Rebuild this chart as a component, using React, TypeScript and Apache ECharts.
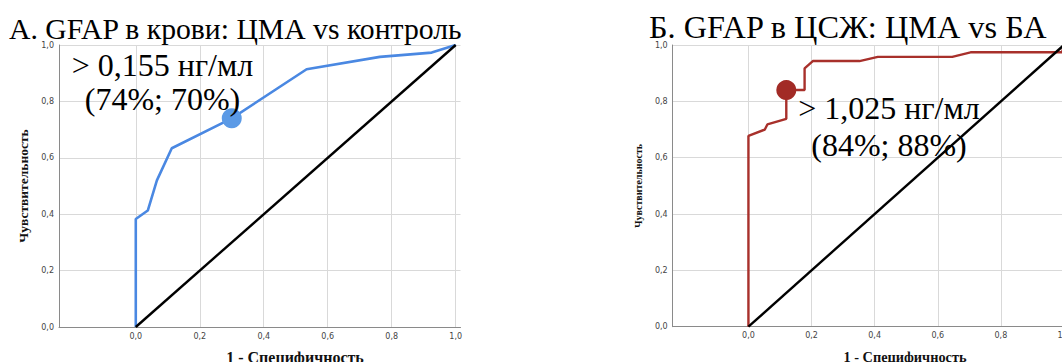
import { useEffect, useRef } from "react";
import * as echarts from "echarts";

// Tick values shown on both axes (the x axis extends a little left of 0)
const xTicks = [0, 0.2, 0.4, 0.6, 0.8, 1.0];

// Panel A: blood GFAP, ROC points (1 - specificity, sensitivity)
const bloodFpr = [0, 0, 0.0375, 0.066, 0.1125, 0.3, 0.534, 0.763, 0.925, 1.0];
const bloodTpr = [0, 0.383, 0.413, 0.52, 0.634, 0.74, 0.914, 0.958, 0.973, 1.0];
const bloodCutoff = "0,155";
const bloodSens = 74;
const bloodSpec = 70;

// Panel B: CSF GFAP, ROC points (1 - specificity, sensitivity)
const csfFpr = [0, 0, 0.052, 0.06, 0.12, 0.12, 0.178, 0.178, 0.204, 0.352, 0.41, 0.646, 0.704, 0.994, 1.0];
const csfTpr = [0, 0.677, 0.7, 0.718, 0.738, 0.84, 0.84, 0.917, 0.943, 0.943, 0.958, 0.958, 0.974, 0.974, 1.0];
const csfCutoff = "1,025";
const csfSens = 84;
const csfSpec = 88;

// Reference (chance) line
const diagX = [0, 1];
const diagY = [0, 1];

const titles = ["А. GFAP в крови: ЦМА vs контроль", "Б. GFAP в ЦСЖ: ЦМА vs БА"];
const xName = "1 - Специфичность";
const yName = "Чувствительность";

const SERIF = "'Liberation Serif', 'Times New Roman', Times, serif";
const SANS = "'DejaVu Sans', Verdana, sans-serif";

const comma = (v: number) => v.toFixed(1).replace(".", ",");
const pairs = (xs: number[], ys: number[]) => xs.map((x, i) => [x, ys[i]]);

function xAxis(gridIndex: number) {
  return {
    type: "value",
    gridIndex,
    min: -0.24,
    max: 1.015,
    axisLine: { show: true, onZero: false, lineStyle: { color: "#8a8a8a", width: 1 } },
    axisTick: { show: false, customValues: xTicks },
    axisLabel: {
      customValues: xTicks,
      formatter: comma,
      fontSize: 8,
      color: "#444",
      fontFamily: SANS,
      margin: 5,
    },
    splitLine: { show: true, lineStyle: { color: "#d9d9d9", width: 1 } },
  };
}

function yAxis(gridIndex: number, nameSize: number) {
  return {
    type: "value",
    gridIndex,
    min: 0,
    max: 1,
    interval: 0.2,
    name: yName,
    nameLocation: "middle",
    nameGap: 29,
    nameRotate: 90,
    nameTextStyle: {
      fontFamily: SERIF,
      fontWeight: "bold",
      fontSize: nameSize,
      color: "#111",
    },
    axisLine: { show: true, onZero: false, lineStyle: { color: "#8a8a8a", width: 1 } },
    axisTick: { show: false },
    axisLabel: {
      formatter: comma,
      fontSize: 8,
      color: "#444",
      fontFamily: SANS,
      margin: 5,
    },
    splitLine: { show: true, lineStyle: { color: "#d9d9d9", width: 1 } },
  };
}

function text(x: number, y: number, str: string, size: number, extra: object = {}) {
  return {
    type: "text",
    x,
    y,
    z: 10,
    style: {
      text: str,
      fontFamily: SERIF,
      fontSize: size,
      fill: "#000",
      textVerticalAlign: "top",
      ...extra,
    },
  };
}

export default function App() {
  const ref = useRef<HTMLDivElement>(null);

  useEffect(() => {
    if (!ref.current) return;
    const chart = echarts.init(ref.current, null, { renderer: "svg" });

    const bloodPoint = [1 - bloodSpec / 100, bloodSens / 100];
    const csfPoint = [1 - csfSpec / 100, csfSens / 100];

    chart.setOption({
      animation: false,
      backgroundColor: "#ffffff",
      grid: [
        { left: 59, top: 45, width: 401.5, height: 282 },
        { left: 672.7, top: 45, width: 396, height: 281.7 },
      ],
      xAxis: [xAxis(0), xAxis(1)],
      yAxis: [yAxis(0, 13.5), yAxis(1, 10)],
      series: [
        {
          type: "line",
          xAxisIndex: 0,
          yAxisIndex: 0,
          data: pairs(bloodFpr, bloodTpr),
          showSymbol: false,
          lineStyle: { color: "#4a88e2", width: 2.6 },
          z: 3,
        },
        {
          type: "line",
          xAxisIndex: 0,
          yAxisIndex: 0,
          data: pairs(diagX, diagY),
          showSymbol: false,
          lineStyle: { color: "#000", width: 2.4 },
          z: 4,
        },
        {
          type: "scatter",
          xAxisIndex: 0,
          yAxisIndex: 0,
          data: [bloodPoint],
          symbolSize: 20,
          itemStyle: { color: "#5b9ae6", opacity: 1 },
          z: 5,
        },
        {
          type: "line",
          xAxisIndex: 1,
          yAxisIndex: 1,
          data: pairs(csfFpr, csfTpr),
          showSymbol: false,
          lineStyle: { color: "#a8302b", width: 2.4 },
          z: 3,
        },
        {
          type: "line",
          xAxisIndex: 1,
          yAxisIndex: 1,
          data: pairs(diagX, diagY),
          showSymbol: false,
          lineStyle: { color: "#000", width: 2.4 },
          z: 4,
        },
        {
          type: "scatter",
          xAxisIndex: 1,
          yAxisIndex: 1,
          data: [csfPoint],
          symbolSize: 20,
          itemStyle: { color: "#a22b26", opacity: 1 },
          z: 5,
        },
      ],
      graphic: [
        text(9, 14.2, titles[0], 29.7),
        text(649, 10.5, titles[1], 32.3),
        text(162.5, 48, `> ${bloodCutoff} нг/мл\n(${bloodSens}%; ${bloodSpec}%)`, 32, {
          lineHeight: 34,
          textAlign: "center",
        }),
        text(889, 89, `> ${csfCutoff} нг/мл\n(${csfSens}%; ${csfSpec}%)`, 32, {
          lineHeight: 37,
          textAlign: "center",
        }),
        text(295, 349, xName, 16, { fontWeight: "bold", fill: "#111", textAlign: "center" }),
        text(905, 350, xName, 14.3, { fontWeight: "bold", fill: "#111", textAlign: "center" }),
      ],
    });

    return () => chart.dispose();
  }, []);

  return (
    <div
      ref={ref}
      style={{ position: "fixed", left: 0, top: 0, width: 1080, height: 362, background: "#fff" }}
    />
  );
}
